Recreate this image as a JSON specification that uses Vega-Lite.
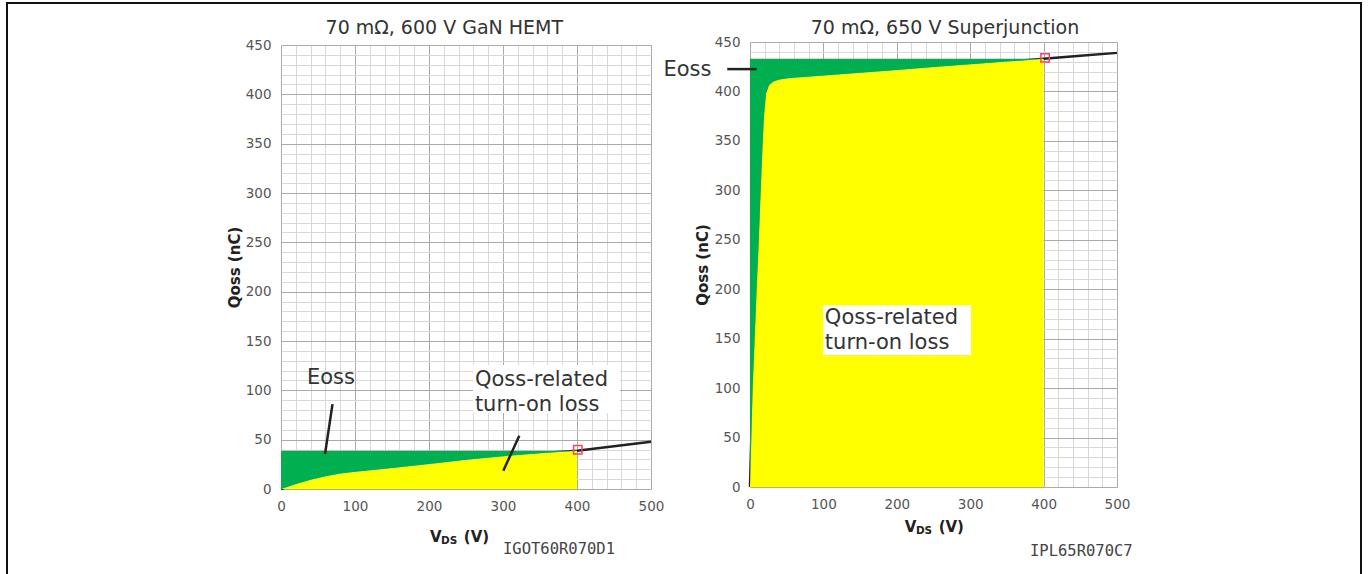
{
  "$schema": "https://vega.github.io/schema/vega-lite/v6.json",
  "autosize": "none",
  "width": 1354,
  "height": 572,
  "padding": {"left": 7, "top": 3, "right": 9, "bottom": -1},
  "background": "white",
  "config": {
    "view": {"stroke": "#111111", "strokeWidth": 2},
    "font": "DejaVu Sans",
    "text": {"font": "DejaVu Sans"},
    "axis": {"labelFont": "DejaVu Sans", "titleFont": "DejaVu Sans", "labelFontSize": 13.5, "labelColor": "#555555"}
  },
  "data": {"values": [{}]},
  "datasets": {
    "gan": [
      {"V": 0, "Q": 0}, {"V": 10, "Q": 2.6}, {"V": 20, "Q": 5.0}, {"V": 40, "Q": 9.3}, {"V": 60, "Q": 13.0},
      {"V": 80, "Q": 15.6}, {"V": 100, "Q": 17.5}, {"V": 150, "Q": 21.2}, {"V": 200, "Q": 25.3}, {"V": 250, "Q": 29.6},
      {"V": 300, "Q": 33.3}, {"V": 350, "Q": 36.3}, {"V": 400, "Q": 38.8}, {"V": 450, "Q": 43.4}, {"V": 500, "Q": 48}
    ],
    "sj": [
      {"V": 0, "Q": 0}, {"V": 1.8, "Q": 50}, {"V": 3.6, "Q": 100}, {"V": 6.8, "Q": 158}, {"V": 9, "Q": 200},
      {"V": 12, "Q": 250}, {"V": 14.5, "Q": 299}, {"V": 17.2, "Q": 347}, {"V": 19, "Q": 375}, {"V": 21.8, "Q": 398},
      {"V": 26, "Q": 406.5}, {"V": 32, "Q": 410}, {"V": 40, "Q": 412}, {"V": 54, "Q": 413.5}, {"V": 100, "Q": 416.2},
      {"V": 150, "Q": 419}, {"V": 200, "Q": 421.8}, {"V": 250, "Q": 424.7}, {"V": 300, "Q": 427.5}, {"V": 350, "Q": 430.2},
      {"V": 400, "Q": 433}, {"V": 450, "Q": 436}, {"V": 500, "Q": 439}
    ],
    "calloutL": [
      {"V": 69.6, "Q": 86, "V2": 59.5, "Q2": 35.5},
      {"V": 322, "Q": 54, "V2": 300.4, "Q2": 18.5}
    ],
    "calloutR": [
      {"V": -31, "Q": 422.6, "V2": 9, "Q2": 422.6}
    ]
  },
  "layer": [
    {
      "layer": [
        {
          "data": {"name": "gan"},
          "mark": {"type": "line", "color": "#222222", "strokeWidth": 2.5},
          "encoding": {
            "x": {"field": "V", "type": "quantitative", "scale": {"domain": [0, 500], "range": [274, 644], "nice": false, "zero": false}, "axis": null},
            "y": {"field": "Q", "type": "quantitative", "scale": {"domain": [0, 450], "range": [486, 42], "nice": false, "zero": false}, "axis": null}
          }
        },
        {
          "data": {"name": "gan"},
          "transform": [{"filter": "datum.V <= 400"}],
          "mark": {"type": "area", "color": "#00b050"},
          "encoding": {
            "x": {"field": "V", "type": "quantitative", "axis": {
              "orient": "top", "values": [0,20,40,60,80,100,120,140,160,180,200,220,240,260,280,300,320,340,360,380,400,420,440,460,480,500],
              "grid": true, "gridColor": {"condition": {"test": "datum.value % 100 === 0", "value": "#aaaaaa"}, "value": "#d8d8d8"},
              "labels": false, "ticks": false, "domain": false, "title": null}},
            "y": {"field": "Q", "type": "quantitative", "axis": {
              "orient": "left", "offset": -274,
              "values": [0,10,20,30,40,50,60,70,80,90,100,110,120,130,140,150,160,170,180,190,200,210,220,230,240,250,260,270,280,290,300,310,320,330,340,350,360,370,380,390,400,410,420,430,440,450],
              "labelExpr": "datum.value % 50 === 0 ? datum.label : ''",
              "grid": true, "gridColor": {"condition": {"test": "datum.value % 50 === 0", "value": "#aaaaaa"}, "value": "#d8d8d8"},
              "ticks": false, "domain": false, "labelPadding": 10, "labelFlush": false,
              "title": "Qoss (nC)", "titleFontSize": 15, "titleFontWeight": "bold", "titleColor": "#222222", "titlePadding": 3}},
            "y2": {"datum": 38.8}
          }
        },
        {
          "data": {"name": "gan"},
          "transform": [{"filter": "datum.V <= 400"}],
          "mark": {"type": "area", "color": "#ffff00"},
          "encoding": {
            "x": {"field": "V", "type": "quantitative", "axis": {
              "orient": "bottom", "offset": -86, "values": [0, 100, 200, 300, 400, 500],
              "grid": false, "ticks": false, "domain": false, "labelPadding": 10, "labelFlush": false, "title": null}},
            "y": {"field": "Q", "type": "quantitative", "axis": null},
            "y2": {"datum": 0}
          }
        },
        {
          "mark": {"type": "point", "shape": "square", "filled": false, "color": "#ee4466", "size": 70, "strokeWidth": 1.5, "opacity": 1},
          "encoding": {
            "x": {"datum": 401, "type": "quantitative", "axis": null},
            "y": {"datum": 39.8, "type": "quantitative", "axis": null}
          }
        },
        {
          "data": {"name": "calloutL"},
          "mark": {"type": "rule", "color": "#222222", "strokeWidth": 2.5},
          "encoding": {
            "x": {"field": "V", "type": "quantitative", "axis": null},
            "y": {"field": "Q", "type": "quantitative", "axis": null},
            "x2": {"field": "V2"},
            "y2": {"field": "Q2"}
          }
        },
        {
          "mark": {"type": "rect", "color": "white"},
          "encoding": {
            "x": {"datum": 259.5, "type": "quantitative", "axis": null},
            "x2": {"datum": 458},
            "y": {"datum": 77, "type": "quantitative", "axis": null},
            "y2": {"datum": 125.6}
          }
        },
        {
          "mark": {"type": "text", "text": "Eoss", "fontSize": 21, "color": "#333333", "align": "left", "baseline": "middle"},
          "encoding": {"x": {"datum": 35, "type": "quantitative", "axis": null}, "y": {"datum": 112.5, "type": "quantitative", "axis": null}}
        },
        {
          "mark": {"type": "text", "text": "Qoss-related", "fontSize": 21, "color": "#333333", "align": "left", "baseline": "middle"},
          "encoding": {"x": {"datum": 262, "type": "quantitative", "axis": null}, "y": {"datum": 110.4, "type": "quantitative", "axis": null}}
        },
        {
          "mark": {"type": "text", "text": "turn-on loss", "fontSize": 21, "color": "#333333", "align": "left", "baseline": "middle"},
          "encoding": {"x": {"datum": 262, "type": "quantitative", "axis": null}, "y": {"datum": 85.1, "type": "quantitative", "axis": null}}
        },
        {
          "mark": {"type": "text", "text": "70 mΩ, 600 V GaN HEMT", "fontSize": 19, "color": "#333333", "align": "center", "baseline": "middle"},
          "encoding": {"x": {"datum": 220.7, "type": "quantitative", "axis": null}, "y": {"datum": 466.8, "type": "quantitative", "axis": null}}
        },
        {
          "mark": {"type": "text", "text": "V", "fontSize": 15, "fontWeight": "bold", "color": "#222222", "align": "left", "baseline": "middle"},
          "encoding": {"x": {"datum": 201.4, "type": "quantitative", "axis": null}, "y": {"datum": -48.6, "type": "quantitative", "axis": null}}
        },
        {
          "mark": {"type": "text", "text": "DS", "fontSize": 10.5, "fontWeight": "bold", "color": "#222222", "align": "left", "baseline": "middle"},
          "encoding": {"x": {"datum": 216.2, "type": "quantitative", "axis": null}, "y": {"datum": -52.7, "type": "quantitative", "axis": null}}
        },
        {
          "mark": {"type": "text", "text": "(V)", "fontSize": 15, "fontWeight": "bold", "color": "#222222", "align": "left", "baseline": "middle"},
          "encoding": {"x": {"datum": 247, "type": "quantitative", "axis": null}, "y": {"datum": -48.6, "type": "quantitative", "axis": null}}
        },
        {
          "mark": {"type": "text", "text": "IGOT60R070D1", "font": "DejaVu Sans Mono", "fontSize": 15.5, "color": "#444444", "align": "left", "baseline": "middle"},
          "encoding": {"x": {"datum": 300, "type": "quantitative", "axis": null}, "y": {"datum": -60.8, "type": "quantitative", "axis": null}}
        }
      ],
      "resolve": {"axis": {"x": "independent", "y": "independent"}}
    },
    {
      "layer": [
        {
          "data": {"name": "sj"},
          "mark": {"type": "line", "color": "#222222", "strokeWidth": 2.5},
          "encoding": {
            "x": {"field": "V", "type": "quantitative", "scale": {"domain": [0, 500], "range": [743, 1110], "nice": false, "zero": false}, "axis": null},
            "y": {"field": "Q", "type": "quantitative", "scale": {"domain": [0, 450], "range": [484, 39], "nice": false, "zero": false}, "axis": null}
          }
        },
        {
          "data": {"name": "sj"},
          "transform": [{"filter": "datum.V <= 400"}],
          "mark": {"type": "area", "color": "#00b050"},
          "encoding": {
            "x": {"field": "V", "type": "quantitative", "axis": {
              "orient": "top", "values": [0,20,40,60,80,100,120,140,160,180,200,220,240,260,280,300,320,340,360,380,400,420,440,460,480,500],
              "grid": true, "gridColor": {"condition": {"test": "datum.value % 100 === 0", "value": "#aaaaaa"}, "value": "#d8d8d8"},
              "labels": false, "ticks": false, "domain": false, "title": null}},
            "y": {"field": "Q", "type": "quantitative", "axis": {
              "orient": "left", "offset": -743,
              "values": [0,10,20,30,40,50,60,70,80,90,100,110,120,130,140,150,160,170,180,190,200,210,220,230,240,250,260,270,280,290,300,310,320,330,340,350,360,370,380,390,400,410,420,430,440,450],
              "labelExpr": "datum.value % 50 === 0 ? datum.label : ''",
              "grid": true, "gridColor": {"condition": {"test": "datum.value % 50 === 0", "value": "#aaaaaa"}, "value": "#d8d8d8"},
              "ticks": false, "domain": false, "labelPadding": 10, "labelFlush": false,
              "title": "Qoss (nC)", "titleFontSize": 15, "titleFontWeight": "bold", "titleColor": "#222222", "titlePadding": 4}},
            "y2": {"datum": 433}
          }
        },
        {
          "data": {"name": "sj"},
          "transform": [{"filter": "datum.V <= 400"}],
          "mark": {"type": "area", "color": "#ffff00"},
          "encoding": {
            "x": {"field": "V", "type": "quantitative", "axis": {
              "orient": "bottom", "offset": -88, "values": [0, 100, 200, 300, 400, 500],
              "grid": false, "ticks": false, "domain": false, "labelPadding": 10, "labelFlush": false, "title": null}},
            "y": {"field": "Q", "type": "quantitative", "axis": null},
            "y2": {"datum": 0}
          }
        },
        {
          "mark": {"type": "point", "shape": "square", "filled": false, "color": "#ee4466", "size": 70, "strokeWidth": 1.5, "opacity": 1},
          "encoding": {
            "x": {"datum": 402, "type": "quantitative", "axis": null},
            "y": {"datum": 434, "type": "quantitative", "axis": null}
          }
        },
        {
          "data": {"name": "calloutR"},
          "mark": {"type": "rule", "color": "#222222", "strokeWidth": 2.5},
          "encoding": {
            "x": {"field": "V", "type": "quantitative", "axis": null},
            "y": {"field": "Q", "type": "quantitative", "axis": null},
            "x2": {"field": "V2"},
            "y2": {"field": "Q2"}
          }
        },
        {
          "mark": {"type": "rect", "color": "white"},
          "encoding": {
            "x": {"datum": 99.5, "type": "quantitative", "axis": null},
            "x2": {"datum": 301},
            "y": {"datum": 133.5, "type": "quantitative", "axis": null},
            "y2": {"datum": 184}
          }
        },
        {
          "mark": {"type": "text", "text": "Eoss", "fontSize": 21, "color": "#333333", "align": "left", "baseline": "middle"},
          "encoding": {"x": {"datum": -118, "type": "quantitative", "axis": null}, "y": {"datum": 421.6, "type": "quantitative", "axis": null}}
        },
        {
          "mark": {"type": "text", "text": "Qoss-related", "fontSize": 21, "color": "#333333", "align": "left", "baseline": "middle"},
          "encoding": {"x": {"datum": 102, "type": "quantitative", "axis": null}, "y": {"datum": 170.9, "type": "quantitative", "axis": null}}
        },
        {
          "mark": {"type": "text", "text": "turn-on loss", "fontSize": 21, "color": "#333333", "align": "left", "baseline": "middle"},
          "encoding": {"x": {"datum": 102, "type": "quantitative", "axis": null}, "y": {"datum": 145.3, "type": "quantitative", "axis": null}}
        },
        {
          "mark": {"type": "text", "text": "70 mΩ, 650 V Superjunction", "fontSize": 19, "color": "#333333", "align": "center", "baseline": "middle"},
          "encoding": {"x": {"datum": 265.7, "type": "quantitative", "axis": null}, "y": {"datum": 463.8, "type": "quantitative", "axis": null}}
        },
        {
          "mark": {"type": "text", "text": "V", "fontSize": 15, "fontWeight": "bold", "color": "#222222", "align": "left", "baseline": "middle"},
          "encoding": {"x": {"datum": 211, "type": "quantitative", "axis": null}, "y": {"datum": -40.4, "type": "quantitative", "axis": null}}
        },
        {
          "mark": {"type": "text", "text": "DS", "fontSize": 10.5, "fontWeight": "bold", "color": "#222222", "align": "left", "baseline": "middle"},
          "encoding": {"x": {"datum": 226, "type": "quantitative", "axis": null}, "y": {"datum": -44.5, "type": "quantitative", "axis": null}}
        },
        {
          "mark": {"type": "text", "text": "(V)", "fontSize": 15, "fontWeight": "bold", "color": "#222222", "align": "left", "baseline": "middle"},
          "encoding": {"x": {"datum": 257, "type": "quantitative", "axis": null}, "y": {"datum": -40.4, "type": "quantitative", "axis": null}}
        },
        {
          "mark": {"type": "text", "text": "IPL65R070C7", "font": "DejaVu Sans Mono", "fontSize": 15.5, "color": "#444444", "align": "left", "baseline": "middle"},
          "encoding": {"x": {"datum": 381.5, "type": "quantitative", "axis": null}, "y": {"datum": -64.7, "type": "quantitative", "axis": null}}
        }
      ],
      "resolve": {"axis": {"x": "independent", "y": "independent"}}
    }
  ],
  "resolve": {"scale": {"x": "independent", "y": "independent"}}
}
